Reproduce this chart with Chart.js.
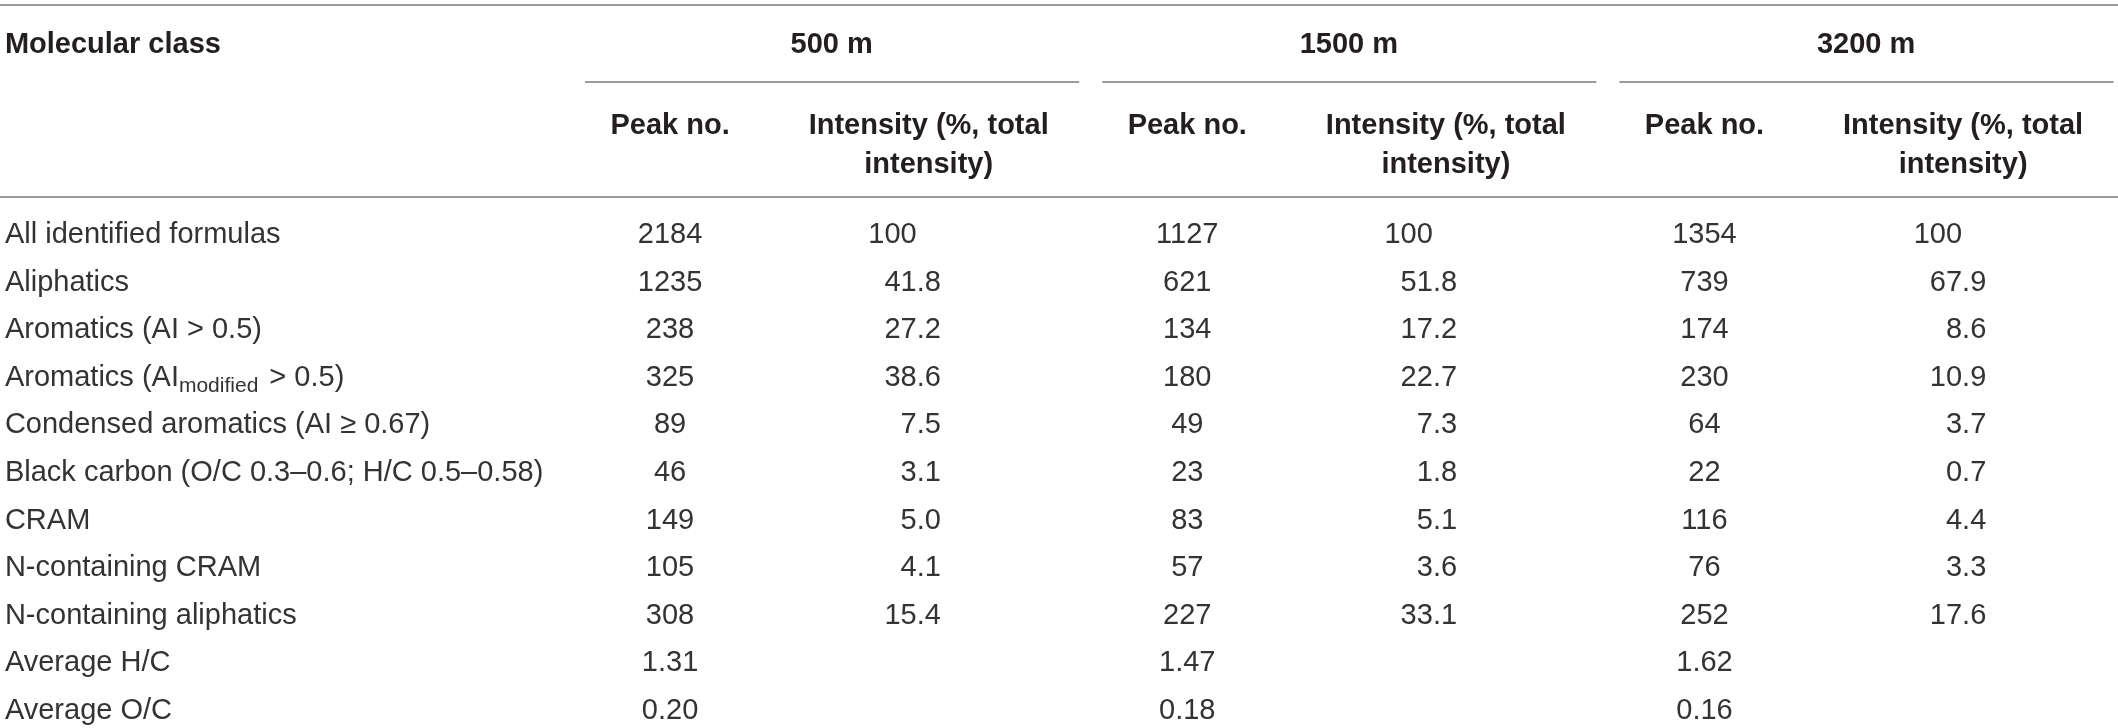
<!DOCTYPE html>
<html>
<head>
<meta charset="utf-8">
<script src="https://cdn.jsdelivr.net/npm/chart.js@4.4.1/dist/chart.umd.min.js"></script>
<style>
  html, body { margin: 0; padding: 0; background: #fff; }
  #wrap { width: 2118px; height: 728px; position: relative; }
</style>
</head>
<body>
<div id="wrap"><canvas id="table"></canvas></div>
<script>
// table contents
const molecularClasses = [
  'All identified formulas',
  'Aliphatics',
  'Aromatics (AI > 0.5)',
  'Aromatics (AI_{modified} > 0.5)',
  'Condensed aromatics (AI \u2265 0.67)',
  'Black carbon (O/C 0.3\u20130.6; H/C 0.5\u20130.58)',
  'CRAM',
  'N-containing CRAM',
  'N-containing aliphatics',
  'Average H/C',
  'Average O/C'
];
const depths = ['500 m', '1500 m', '3200 m'];
const subHeaders = [['Peak no.'], ['Intensity (%, total', 'intensity)']];

const peaks500 = [2184, 1235, 238, 325, 89, 46, 149, 105, 308, 1.31, 0.20];
const intensity500 = [100, 41.8, 27.2, 38.6, 7.5, 3.1, 5.0, 4.1, 15.4, null, null];
const peaks1500 = [1127, 621, 134, 180, 49, 23, 83, 57, 227, 1.47, 0.18];
const intensity1500 = [100, 51.8, 17.2, 22.7, 7.3, 1.8, 5.1, 3.6, 33.1, null, null];
const peaks3200 = [1354, 739, 174, 230, 64, 22, 116, 76, 252, 1.62, 0.16];
const intensity3200 = [100, 67.9, 8.6, 10.9, 3.7, 0.7, 4.4, 3.3, 17.6, null, null];

const columns = [peaks500, intensity500, peaks1500, intensity1500, peaks3200, intensity3200];

// layout (in scale units; rows are 0..10, columns 1..6)
const LABEL_X = -1.572;
const TOP_RULE = -4.795, HEAD_ROW = -3.99, GROUP_RULE = -3.177;
const SUB_ROW1 = -2.30, SUB_ROW2 = -1.47, HEAD_RULE = -0.76;
const DEC_SHIFT = [-12, -13, -1];   // px, decimal point vs column centre

const HEAD_FONT = 'bold 29px "Liberation Sans", Arial, sans-serif';
const BODY_FONT = '29px "Liberation Sans", Arial, sans-serif';
const SUB_FONT = '21px "Liberation Sans", Arial, sans-serif';
const HEAD_COLOR = '#231f20', BODY_COLOR = '#333333', RULE_COLOR = '#7a7a7a';

function fmtPeak(v) { return Number.isInteger(v) ? String(v) : v.toFixed(2); }
function fmtInt(v) { return v >= 100 ? String(v) : v.toFixed(1); }

const datasets = [{
  label: 'class',
  data: molecularClasses.map((t, i) => ({ x: LABEL_X, y: i, text: t }))
}];
columns.forEach((vals, c) => {
  datasets.push({
    label: 'col' + c,
    data: vals.map((v, i) => ({ x: c + 1, y: i, v: v }))
  });
});

const tablePlugin = {
  id: 'tableText',
  afterDatasetsDraw(chart) {
    const { ctx, chartArea, scales: { x, y } } = chart;
    ctx.save();

    // rules
    ctx.strokeStyle = RULE_COLOR;
    ctx.lineWidth = 1.5;
    function hline(x0, x1, yy) {
      ctx.beginPath(); ctx.moveTo(x0, yy); ctx.lineTo(x1, yy); ctx.stroke();
    }
    hline(chartArea.left, chartArea.right, y.getPixelForValue(TOP_RULE));
    hline(chartArea.left, chartArea.right, y.getPixelForValue(HEAD_RULE));
    depths.forEach((d, g) => {
      hline(x.getPixelForValue(2 * g + 0.671), x.getPixelForValue(2 * g + 2.582),
            y.getPixelForValue(GROUP_RULE));
    });

    // header
    ctx.fillStyle = HEAD_COLOR;
    ctx.font = HEAD_FONT;
    ctx.textBaseline = 'alphabetic';
    ctx.textAlign = 'left';
    ctx.fillText('Molecular class', x.getPixelForValue(LABEL_X), y.getPixelForValue(HEAD_ROW) + 10);
    ctx.textAlign = 'center';
    depths.forEach((d, g) => {
      ctx.fillText(d, x.getPixelForValue(2 * g + 1.625), y.getPixelForValue(HEAD_ROW) + 10);
      subHeaders.forEach((lines, k) => {
        const cx = x.getPixelForValue(2 * g + 1 + k);
        lines.forEach((ln, j) => {
          ctx.fillText(ln, cx, y.getPixelForValue(j === 0 ? SUB_ROW1 : SUB_ROW2) + 10);
        });
      });
    });

    // body
    ctx.fillStyle = BODY_COLOR;
    chart.data.datasets.forEach((ds, di) => {
      const meta = chart.getDatasetMeta(di);
      meta.data.forEach((pt, i) => {
        const raw = ds.data[i];
        const by = pt.y + 10;
        if (di === 0) {
          ctx.textAlign = 'left';
          const m = raw.text.match(/^(.*)_\{(.*?)\}(.*)$/);
          if (m) {
            let px = pt.x;
            ctx.font = BODY_FONT; ctx.fillText(m[1], px, by); px += ctx.measureText(m[1]).width;
            ctx.font = SUB_FONT; ctx.fillText(m[2], px, by + 6); px += ctx.measureText(m[2]).width;
            ctx.font = BODY_FONT; ctx.fillText(m[3], px + 3, by);
          } else {
            ctx.font = BODY_FONT; ctx.fillText(raw.text, pt.x, by);
          }
          return;
        }
        if (raw.v === null) return;
        ctx.font = BODY_FONT;
        const c = di - 1;
        if (c % 2 === 0) {
          ctx.textAlign = 'center';
          ctx.fillText(fmtPeak(raw.v), pt.x, by);
        } else {
          // decimal aligned
          const s = fmtInt(raw.v);
          const dx = pt.x + DEC_SHIFT[(c - 1) / 2];
          const parts = s.split('.');
          ctx.textAlign = 'right';
          ctx.fillText(parts[0], dx, by);
          if (parts.length > 1) {
            ctx.textAlign = 'left';
            ctx.fillText('.' + parts[1], dx, by);
          }
        }
      });
    });
    ctx.restore();
  }
};

new Chart(document.getElementById('table'), {
  type: 'scatter',
  data: { datasets: datasets },
  options: {
    responsive: true,
    maintainAspectRatio: false,
    animation: false,
    events: [],
    layout: { padding: 0 },
    elements: { point: { radius: 0, hoverRadius: 0 } },
    plugins: { legend: { display: false }, tooltip: { enabled: false } },
    scales: {
      x: { type: 'linear', min: -1.591, max: 6.599, display: false },
      y: { type: 'linear', reverse: true, min: -4.9, max: 10.4, display: false }
    }
  },
  plugins: [tablePlugin]
});
</script>
</body>
</html>
